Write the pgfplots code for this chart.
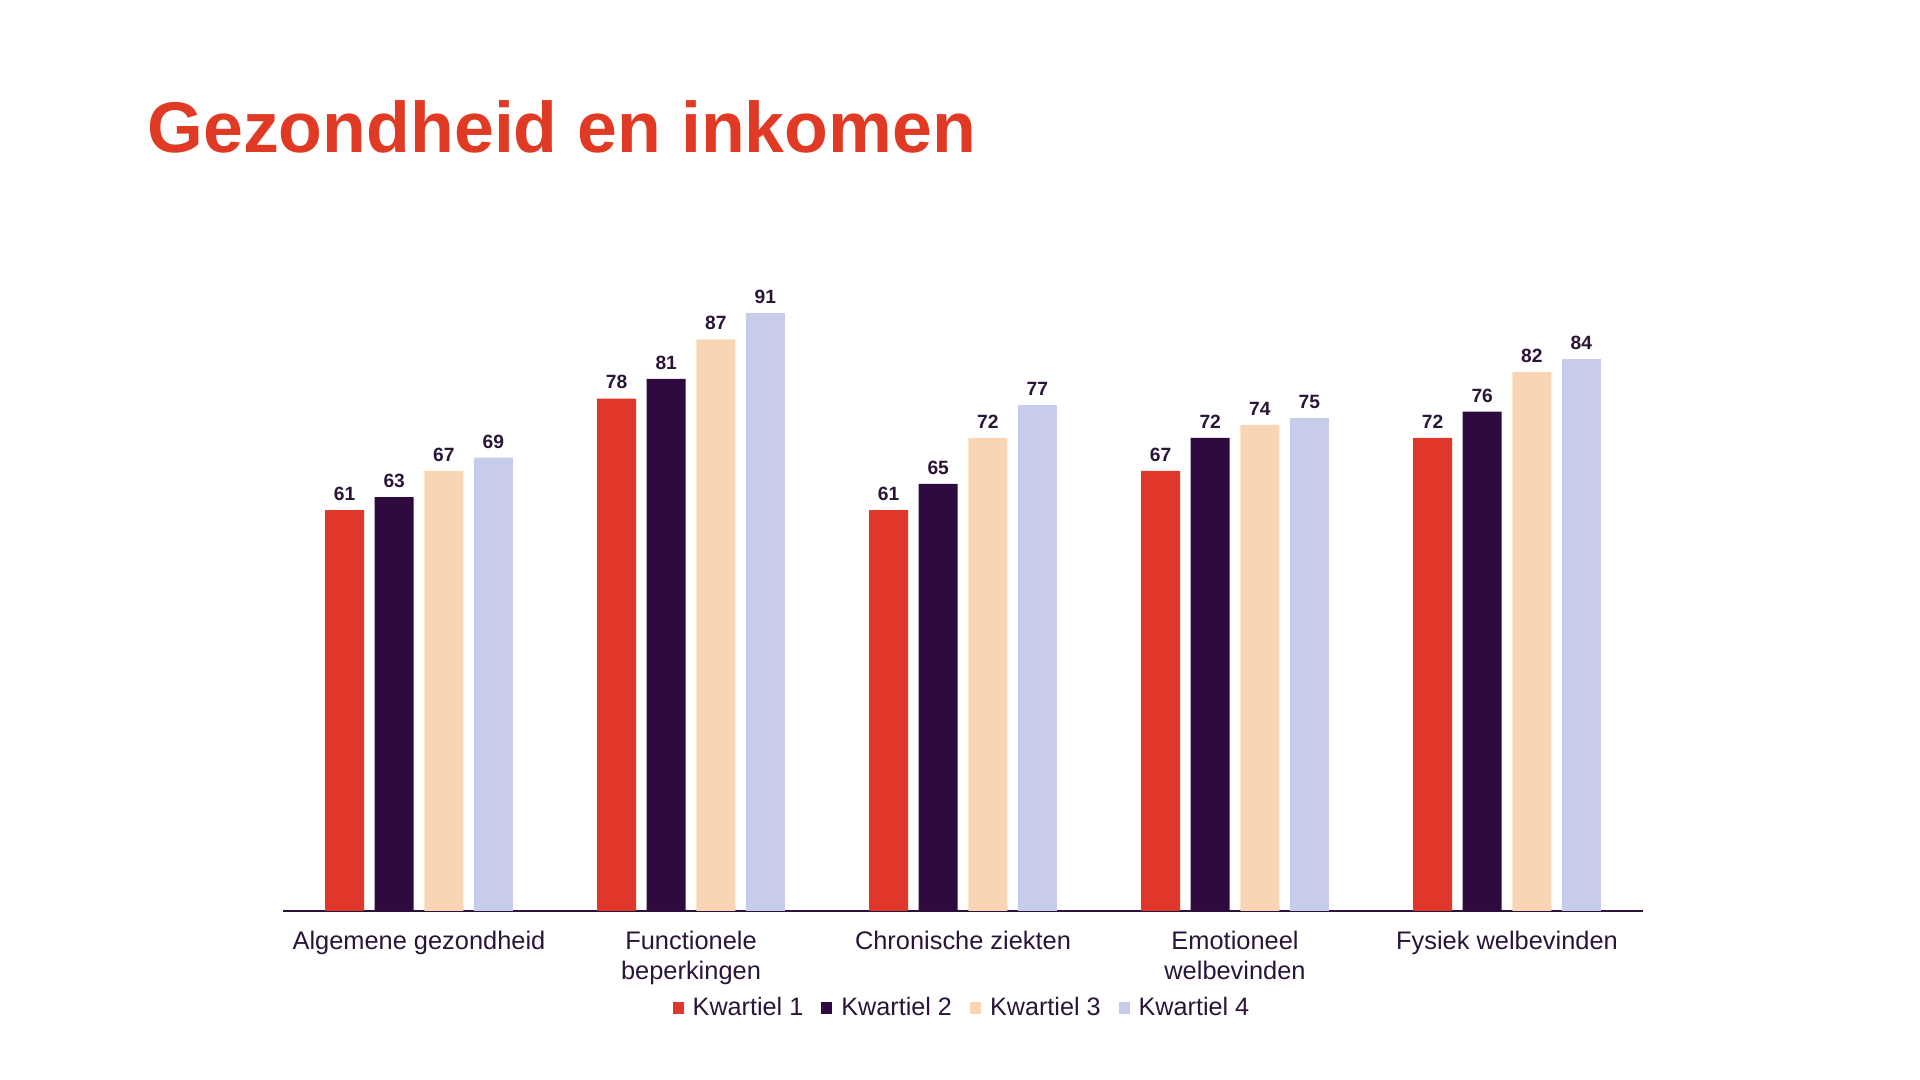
\documentclass[border=0pt]{standalone}
\usepackage{pgfplots}
\pgfplotsset{compat=1.18}
\usepackage{fontspec}
\setmainfont{Liberation Sans}
\definecolor{q1}{HTML}{E0372A}
\definecolor{q2}{HTML}{2E0A3F}
\definecolor{q3}{HTML}{FAD5B4}
\definecolor{q4}{HTML}{C8CCEB}
\definecolor{titlec}{HTML}{E03A24}
\definecolor{textc}{HTML}{2A1538}
\begin{document}
\begin{tikzpicture}
\useasboundingbox (0,0) rectangle (960pt,540pt);
\node[anchor=base west, inner sep=0pt, text=titlec, font=\bfseries\fontsize{35.85}{40}\selectfont] at (73.5pt,463.5pt) {Gezondheid en inkomen};
\begin{axis}[
 at={(141.5pt,84.5pt)}, anchor=south west,
 scale only axis, width=680pt, height=328.5pt,
 xmin=-0.5, xmax=4.5, ymin=0, ymax=100,
 ybar=5.3pt, bar width=19.5pt,
 axis x line=bottom, axis y line=none,
 x axis line style={-, draw=textc, line width=1pt},
 xtick={0,1,2,3,4},
 xticklabels={Algemene gezondheid, {Functionele\\beperkingen}, Chronische ziekten, {Emotioneel\\welbevinden}, Fysiek welbevinden},
 major tick length=0pt,
 xticklabel style={align=center, text=textc, font=\fontsize{12.7}{14.7}\selectfont, inner sep=0pt, yshift=-10pt},
 nodes near coords,
 every node near coord/.append style={font=\bfseries\fontsize{9.6}{10}\selectfont, text=textc, inner sep=0pt, yshift=4.5pt},
 /pgf/number format/assume math mode=true,
 legend columns=-1,
 legend style={at={(0.5,0)}, anchor=center, yshift=-48.5pt, draw=none, fill=none, font=\fontsize{12.6}{14}\selectfont, text=textc, /tikz/every even column/.append style={column sep=7pt}, /tikz/every odd column/.append style={column sep=2.5pt}},
 legend image code/.code={\fill[#1] (0pt,-2.9pt) rectangle (5.5pt,2.9pt);},
]
\addplot[fill=q1, draw=none] coordinates {(0,61) (1,78) (2,61) (3,67) (4,72)};
\addplot[fill=q2, draw=none] coordinates {(0,63) (1,81) (2,65) (3,72) (4,76)};
\addplot[fill=q3, draw=none] coordinates {(0,67) (1,87) (2,72) (3,74) (4,82)};
\addplot[fill=q4, draw=none] coordinates {(0,69) (1,91) (2,77) (3,75) (4,84)};
\legend{Kwartiel 1, Kwartiel 2, Kwartiel 3, Kwartiel 4}
\end{axis}
\end{tikzpicture}
\end{document}
